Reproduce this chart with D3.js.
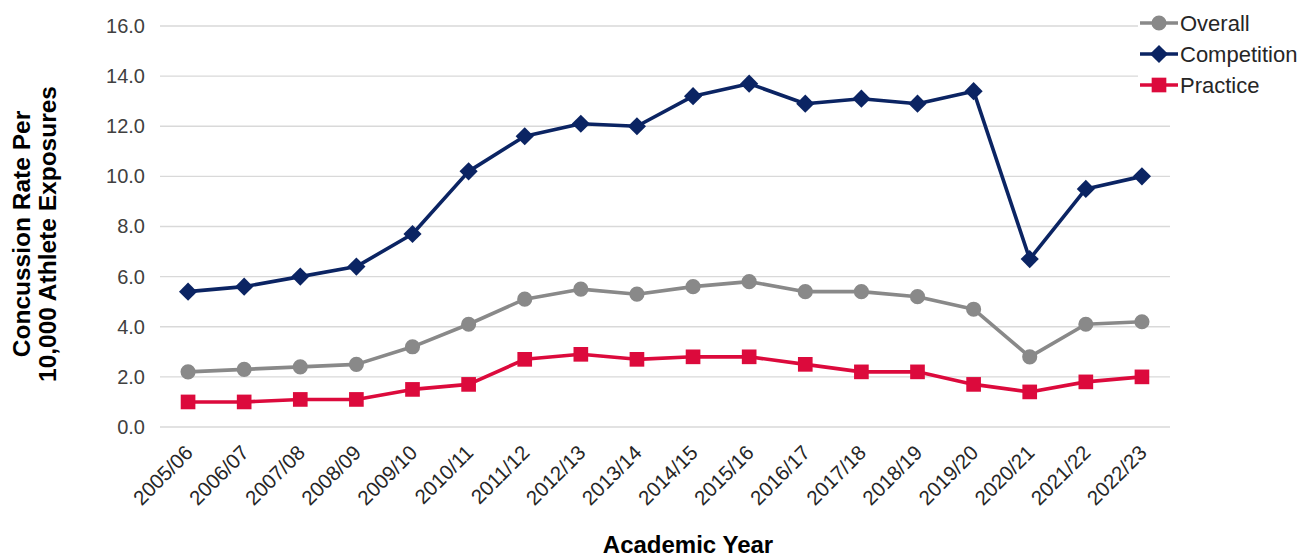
<!DOCTYPE html>
<html><head><meta charset="utf-8">
<script src="https://cdn.jsdelivr.net/npm/d3@7"></script>
<style>
body{margin:0;background:#fff;}
svg{display:block;font-family:"Liberation Sans",Arial,sans-serif;}
</style></head>
<body>
<svg id="c" width="1304" height="558"></svg>
<script>
const years = ["2005/06","2006/07","2007/08","2008/09","2009/10","2010/11","2011/12","2012/13","2013/14","2014/15","2015/16","2016/17","2017/18","2018/19","2019/20","2020/21","2021/22","2022/23"];
const overall = [2.2,2.3,2.4,2.5,3.2,4.1,5.1,5.5,5.3,5.6,5.8,5.4,5.4,5.2,4.7,2.8,4.1,4.2];
const competition = [5.4,5.6,6.0,6.4,7.7,10.2,11.6,12.1,12.0,13.2,13.7,12.9,13.1,12.9,13.4,6.7,9.5,10.0];
const practice = [1.0,1.0,1.1,1.1,1.5,1.7,2.7,2.9,2.7,2.8,2.8,2.5,2.2,2.2,1.7,1.4,1.8,2.0];
const yTicks = [0,2,4,6,8,10,12,14,16];
const seriesNames = ["Overall","Competition","Practice"];

const series = [
  {name:seriesNames[0], values:overall, color:"#898989", shape:"circle"},
  {name:seriesNames[1], values:competition, color:"#0b2463", shape:"diamond"},
  {name:seriesNames[2], values:practice, color:"#dc0a3c", shape:"square"}
];

const svg = d3.select("#c");
const mLeft = 160, mRight = 1170, mTop = 26, mBottom = 427;
const x = d3.scaleBand().domain(years).range([mLeft, mRight]);
const y = d3.scaleLinear().domain([0,16]).range([mBottom, mTop]);
const cx = d => x(d) + x.bandwidth()/2;

// gridlines
svg.append("g").selectAll("line").data(yTicks).join("line")
  .attr("x1", mLeft).attr("x2", mRight)
  .attr("y1", d => y(d)).attr("y2", d => y(d))
  .attr("stroke", "#d9d9d9").attr("stroke-width", 1.3);

// y axis labels
const yAxis = d3.axisLeft(y).tickValues(yTicks).tickFormat(d3.format(".1f")).tickSize(0).tickPadding(15);
const yg = svg.append("g").attr("transform", `translate(${mLeft},0)`).call(yAxis);
yg.select(".domain").remove();
yg.selectAll("text").attr("font-size", 20).attr("fill", "#404040")
  .attr("font-family", '"Liberation Sans",Arial,sans-serif');

// x axis labels
const xAxis = d3.axisBottom(x).tickSize(0).tickPadding(0);
const xg = svg.append("g").attr("transform", `translate(0,${mBottom})`).call(xAxis);
xg.select(".domain").remove();
xg.selectAll("text")
  .attr("font-size", 20.5).attr("fill", "#262626")
  .attr("font-family", '"Liberation Sans",Arial,sans-serif')
  .attr("text-anchor", "end")
  .attr("dy", "0")
  .attr("transform", "translate(6,27) rotate(-45)");

// lines and markers
const line = d3.line().x((d,i) => cx(years[i])).y(d => y(d));
const sym = {
  circle: d3.symbol().type(d3.symbolCircle).size(180),
  diamond: d3.symbol().type(d3.symbolSquare).size(165),
  square: d3.symbol().type(d3.symbolSquare).size(215)
};
const rot = s => s.shape === "diamond" ? " rotate(45)" : "";
[series[0], series[2], series[1]].forEach(s => {
  svg.append("path").datum(s.values)
    .attr("d", line).attr("fill", "none")
    .attr("stroke", s.color).attr("stroke-width", 3.6).attr("stroke-linejoin","round");
  svg.append("g").selectAll("path").data(s.values).join("path")
    .attr("d", sym[s.shape])
    .attr("transform", (d,i) => `translate(${cx(years[i])},${y(d)})` + rot(s))
    .attr("fill", s.color);
});

// legend
const lg = svg.append("g");
lg.append("rect").attr("x", 1138).attr("y", 0).attr("width", 166).attr("height", 100).attr("fill", "#fff");
series.forEach((s, i) => {
  const ly = 23 + i * 31;
  lg.append("line").attr("x1", 1140).attr("x2", 1178).attr("y1", ly).attr("y2", ly)
    .attr("stroke", s.color).attr("stroke-width", 3.6);
  lg.append("path").attr("d", sym[s.shape]).attr("transform", `translate(1159,${ly})` + rot(s)).attr("fill", s.color);
  lg.append("text").attr("x", 1180).attr("y", ly).attr("dy", "0.36em")
    .attr("font-size", 22).attr("fill", "#262626").text(s.name);
});

// axis titles
svg.append("text").attr("x", 688).attr("y", 553)
  .attr("text-anchor", "middle").attr("font-size", 24).attr("font-weight", "bold")
  .attr("fill", "#000").text("Academic Year");
const yt = svg.append("text").attr("transform", "translate(0,234) rotate(-90)")
  .attr("text-anchor", "middle").attr("font-size", 24.5).attr("font-weight", "bold").attr("fill", "#000");
yt.append("tspan").attr("x", 0).attr("y", 30).text("Concussion Rate Per");
yt.append("tspan").attr("x", 0).attr("y", 56).text("10,000 Athlete Exposures");
</script>
</body></html>
